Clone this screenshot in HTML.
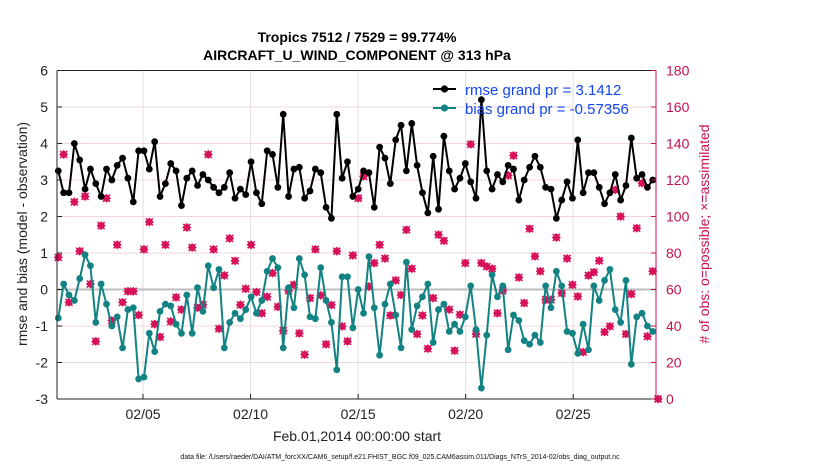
<!DOCTYPE html>
<html><head><meta charset="utf-8">
<style>
html,body{margin:0;padding:0;background:#fff;}
svg{display:block;font-family:"Liberation Sans",sans-serif;}
</style></head>
<body>
<svg id="chart" width="830" height="470" viewBox="0 0 830 470">
<text x="357" y="42" text-anchor="middle" font-size="14" font-weight="bold">Tropics 7512 / 7529 = 99.774%</text>
<text x="357" y="60" text-anchor="middle" font-size="14" font-weight="bold">AIRCRAFT_U_WIND_COMPONENT @ 313 hPa</text>
<g id="grid"></g>
<g id="marks"></g>
<g id="axes"></g>
<text x="357" y="441" text-anchor="middle" font-size="14" fill="#222">Feb.01,2014 00:00:00 start</text>
<text transform="translate(27,234) rotate(-90)" text-anchor="middle" font-size="14" fill="#222">rmse and bias (model - observation)</text>
<text transform="translate(709,234) rotate(-90)" text-anchor="middle" font-size="14" fill="#c8104f"># of obs: o=possible; ×=assimilated</text>
<text x="400" y="459" text-anchor="middle" font-size="7" fill="#111">data file: /Users/raeder/DAI/ATM_forcXX/CAM6_setup/f.e21.FHIST_BGC.f09_025.CAM6assim.011/Diags_NTrS_2014-02/obs_diag_output.nc</text>
<g id="legend">
  <line x1="433" y1="89" x2="456" y2="89" stroke="#000" stroke-width="2"/>
  <circle cx="444.5" cy="89" r="3.6" fill="#000"/>
  <text x="465" y="95" font-size="15" fill="#1446f0">rmse grand pr = 3.1412</text>
  <line x1="433" y1="108" x2="456" y2="108" stroke="#138282" stroke-width="2"/>
  <circle cx="444.5" cy="108" r="3.6" fill="#138282"/>
  <text x="465" y="114" font-size="15" fill="#1446f0">bias grand pr = -0.57356</text>
</g>
</svg>
<script>
const rmse = [3.25,2.65,2.65,4.0,3.55,2.75,3.3,2.9,2.55,3.3,3.0,3.4,3.6,3.05,2.4,3.8,3.8,3.3,4.05,2.55,
2.9,3.45,3.25,2.3,3.05,3.25,2.85,3.15,3.0,2.8,2.65,2.8,3.2,2.5,2.75,2.6,3.5,2.65,2.35,
3.8,3.7,2.8,4.8,2.55,3.3,3.35,2.5,2.7,3.3,3.2,2.25,1.95,4.8,3.05,3.5,2.55,2.75,
3.25,3.2,2.25,3.9,3.6,2.9,4.1,4.5,3.25,4.55,3.4,2.65,2.1,3.65,2.2,4.2,3.25,2.75,3.05,
3.45,2.95,2.5,5.2,3.25,2.75,3.15,2.95,3.4,3.3,2.45,3.0,3.35,3.65,3.35,2.8,2.75,1.95,2.45,
2.95,2.5,4.1,2.65,3.2,3.2,2.8,2.35,2.65,3.15,2.45,2.85,4.15,3.05,3.15,2.8,3.0];
const bias = [-0.78,0.15,-0.15,-0.3,0.3,0.95,0.65,-0.9,0.15,-0.4,-1.0,-0.75,-1.6,-0.55,-0.5,-2.45,-2.4,-1.2,-1.7,-0.6,
-0.4,-0.45,-0.95,-1.2,-0.15,-1.2,0.05,-0.6,0.65,0.05,0.55,-1.6,-0.9,-0.65,-0.8,-0.55,-0.2,-0.65,-0.3,
0.5,0.85,0.6,-1.6,0.05,-0.5,0.85,0.4,-0.75,-0.8,0.6,-0.3,-0.9,-2.2,0.35,0.35,-1.05,0.0,
-0.65,0.9,-0.5,-1.8,-0.4,0.15,-0.7,-1.6,0.75,-1.1,-0.45,-0.2,0.15,-1.45,-0.55,-0.4,-1.15,-0.95,-1.15,
-0.75,0.1,-1.1,-2.7,-1.25,0.4,-0.2,0.1,-1.65,-0.7,-0.85,-1.4,-1.5,-1.25,-1.45,0.1,-0.5,0.5,0.1,
-1.15,-1.2,-1.75,-0.95,-1.65,0.1,-0.3,0.25,0.55,-0.55,-0.9,0.25,-2.05,-0.75,-0.65,-1.0,-1.15];
const nobs = [77.6,134,53,108,81,111,63,31.6,95,110,43,84.5,53,59,59,46,82,97,41,34,
84.5,42.5,55.7,49,94,83,50,51.6,134,82,38.5,67.7,88,75.7,51.6,60.4,84.5,58.6,47,
56,69,50.5,37.4,59.3,62.6,36,24.3,55.3,82,56.8,30,51.5,81,39.8,31.6,78.7,110,
122,61.6,74.5,84.5,77,45.8,65,57,92.7,71.4,35.6,45.8,27.6,55.3,90,86.7,49,26.5,46.2,
74.5,139.6,35.6,74.5,72.6,71.4,47,59.3,122.5,133.4,66.6,52.6,93.3,78.2,70,54.4,54.4,88.5,58,
77,62.6,56.2,25.7,67.7,69.5,75.8,36.7,39.8,114.6,100,35.6,57.5,93.6,118.3,34.3,70,0];
const xTickDays = [5,10,15,20,25];
const xTickLabels = ["02/05","02/10","02/15","02/20","02/25"];
const yTicks = [-3,-2,-1,0,1,2,3,4,5,6];
const y2Ticks = [0,20,40,60,80,100,120,140,160,180];

const NS="http://www.w3.org/2000/svg";
const L=57,R=656,T=70.5,B=399;
const xDay=d=>L+(d-1)*(R-L)/27.85;
const xIdx=i=>xDay(1.06+i*0.249);
const yL=v=>B-(v+3)*(B-T)/9;
const yR=v=>B-v*(B-T)/180;
function mk(tag,attrs,parent){const e=document.createElementNS(NS,tag);for(const k in attrs)e.setAttribute(k,attrs[k]);parent.appendChild(e);return e;}
const grid=document.getElementById('grid'),marks=document.getElementById('marks'),axes=document.getElementById('axes');

// gridlines
yTicks.forEach(v=>{if(v>-3&&v<6&&v!==0){const g=mk('line',{x1:L,x2:R,y1:yL(v),y2:yL(v),stroke:'#f2d4de','stroke-width':1},grid);

}});
xTickDays.forEach(d=>{const g=mk('line',{x1:xDay(d),x2:xDay(d),y1:T,y2:B,stroke:'#e0e0e0','stroke-width':1},grid);

});
const z=mk('line',{x1:L,x2:R,y1:yL(0),y2:yL(0),stroke:'#bdbdbd','stroke-width':2},grid);



// obs count markers
nobs.forEach((v,i)=>{const cx=xIdx(i),cy=yR(v);
const g=mk('g',{},marks);


mk('rect',{x:cx-3.2,y:cy-3.2,width:6.4,height:6.4,fill:'#d8125a',transform:`rotate(45 ${cx} ${cy})`},g);
mk('path',{d:`M${cx-3.5} ${cy-3.5}L${cx+3.5} ${cy+3.5}M${cx+3.5} ${cy-3.5}L${cx-3.5} ${cy+3.5}`,stroke:'#d8125a','stroke-width':1.6},g);});

function series(arr,color,name){
 const p=arr.map((v,i)=>(i?'L':'M')+xIdx(i).toFixed(1)+' '+yL(v).toFixed(1)).join('');
 const l=mk('path',{d:p,fill:'none',stroke:color,'stroke-width':2,'stroke-linejoin':'round'},marks);
 
 
 arr.forEach((v,i)=>{const c=mk('circle',{cx:xIdx(i),cy:yL(v),r:3.4,fill:color},marks);
 
 });
}
series(bias,'#138282','bias');
series(rmse,'#000000','rmse');

// axes frame
mk('line',{x1:L,x2:R,y1:T,y2:T,stroke:'#222','stroke-width':1},axes);
mk('line',{x1:L,x2:R,y1:B,y2:B,stroke:'#222','stroke-width':1},axes);
mk('line',{x1:L,x2:L,y1:T,y2:B,stroke:'#222','stroke-width':1},axes);
mk('line',{x1:R,x2:R,y1:T,y2:B,stroke:'#c8104f','stroke-width':1},axes);
yTicks.forEach(v=>{mk('line',{x1:L,x2:L+5,y1:yL(v),y2:yL(v),stroke:'#222'},axes);
const t=mk('text',{x:L-9,y:yL(v)+5,'text-anchor':'end','font-size':14,fill:'#222'},axes);t.textContent=v;

});
y2Ticks.forEach(v=>{mk('line',{x1:R-5,x2:R,y1:yR(v),y2:yR(v),stroke:'#c8104f'},axes);
const t=mk('text',{x:R+10,y:yR(v)+5,'font-size':14,fill:'#c8104f'},axes);t.textContent=v;

});
xTickDays.forEach((d,i)=>{mk('line',{x1:xDay(d),x2:xDay(d),y1:B-5,y2:B,stroke:'#222'},axes);
const t=mk('text',{x:xDay(d),y:B+20,'text-anchor':'middle','font-size':14,fill:'#222'},axes);t.textContent=xTickLabels[i];

});
</script>
</body></html>
